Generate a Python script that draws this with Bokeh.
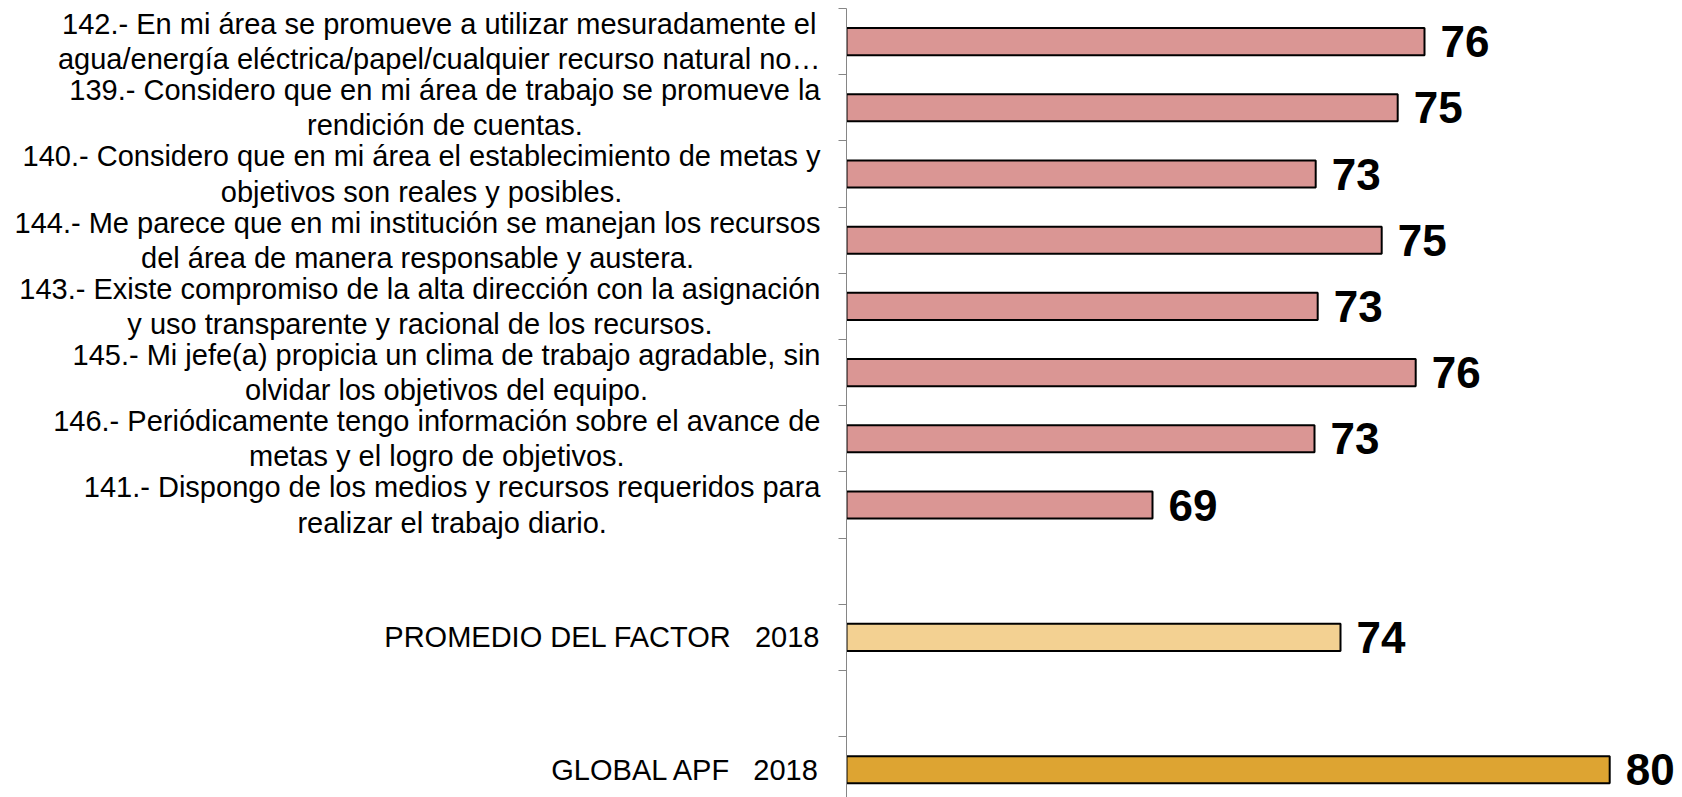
from bokeh.plotting import figure
from bokeh.layouts import row
from bokeh.models import ColumnDataSource, Range1d, FixedTicker
from bokeh.core.properties import value
from bokeh.embed import file_html
from bokeh.resources import INLINE

# ---- data ----
categories = [
    "142.- En mi área se promueve a utilizar mesuradamente el\nagua/energía eléctrica/papel/cualquier recurso natural no…",
    "139.- Considero que en mi área de trabajo se promueve la\nrendición de cuentas.",
    "140.- Considero que en mi área el establecimiento de metas y\nobjetivos son reales y posibles.",
    "144.- Me parece que en mi institución se manejan los recursos\ndel área de manera responsable y austera.",
    "143.- Existe compromiso de la alta dirección con la asignación\ny uso transparente y racional de los recursos.",
    "145.- Mi jefe(a) propicia un clima de trabajo agradable, sin\nolvidar los objetivos del equipo.",
    "146.- Periódicamente tengo información sobre el avance de\nmetas y el logro de objetivos.",
    "141.- Dispongo de los medios y recursos requeridos para\nrealizar el trabajo diario.",
    "",
    "PROMEDIO DEL FACTOR\u00a0\u00a0\u00a02018",
    "",
    "GLOBAL APF\u00a0\u00a0\u00a02018",
]
values = [75.80, 75.13, 73.08, 74.73, 73.13, 75.58, 73.05, 69.00, None, 73.70, None, 80.43]
kinds = ["item"] * 8 + ["blank", "factor", "blank", "global"]

kind_colors = {"item": "#DA9694", "factor": "#F3D192", "global": "#DDA432"}
FONT = "Liberation Sans"

ys, xs, cols, labs = [], [], [], []
for i, (v, k) in enumerate(zip(values, kinds)):
    if v is None:
        continue
    ys.append(i + 0.5)
    xs.append(v)
    cols.append(kind_colors[k])
    labs.append(f"{v:.0f}")
src = ColumnDataSource(dict(y=ys, x=xs, color=cols, label=labs))

cat_y = [i + 0.5 for i, c in enumerate(categories) if c]
cat_t = [c for c in categories if c]

H = 797
TOP = 8
LW = 826            # width of the label panel
RW = 1682 - LW      # width of the bar panel
AXPAD = 20          # space for the axis ticks, frame starts at LW + AXPAD = 846
PX_X, PX_Y = 40.0, 66.2
X0 = 61.35

yr = Range1d((H - TOP) / PX_Y, 0)

# ---- left panel: category labels ----
left = figure(width=LW, height=H, output_backend="svg", toolbar_location=None,
              x_range=Range1d(0, LW), y_range=yr,
              x_axis_location=None, y_axis_location=None,
              min_border_left=0, min_border_right=0, min_border_top=TOP, min_border_bottom=0)
left.outline_line_color = None
left.grid.visible = False
left.text(x=[LW - 6] * len(cat_y), y=cat_y, text=cat_t, anchor="center_right",
          text_align="center", text_baseline="middle", text_font=value(FONT),
          text_font_size="29px", text_line_height=1.1, text_color="black")

# ---- right panel: bars ----
p = figure(width=RW, height=H, output_backend="svg", toolbar_location=None,
           x_range=Range1d(X0, X0 + (RW - AXPAD) / PX_X), y_range=yr,
           x_axis_location=None, min_border_left=AXPAD, min_border_right=0,
           min_border_top=TOP, min_border_bottom=0)
p.outline_line_color = None
p.grid.visible = False

p.hbar(y="y", left=X0, right="x", height=0.41, fill_color="color",
       line_color="black", line_width=2, source=src)
p.text(x="x", y="y", text="label", source=src, x_offset=16, text_align="left",
       text_baseline="middle", text_font=value(FONT), text_font_style="bold",
       text_font_size="44px", text_color="black")

yax = p.yaxis[0]
yax.ticker = FixedTicker(ticks=[], minor_ticks=list(range(len(categories) + 1)))
yax.axis_line_color = "#868686"
yax.axis_line_width = 1
yax.minor_tick_line_color = "#868686"
yax.minor_tick_out = 8
yax.minor_tick_in = 0
yax.major_tick_line_color = None
yax.major_tick_out = 0
yax.major_tick_in = 0
yax.major_label_standoff = 0

layout = row(left, p, spacing=0)
open("out.html", "w").write(file_html(layout, INLINE))
